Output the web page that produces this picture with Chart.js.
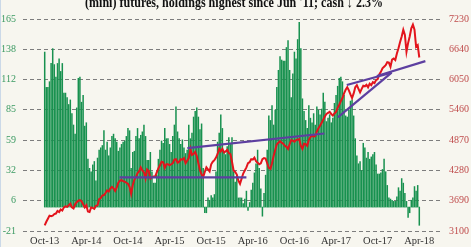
<!DOCTYPE html>
<html><head><meta charset="utf-8">
<script src="https://cdn.jsdelivr.net/npm/chart.js@4.4.1/dist/chart.umd.min.js"></script>
<style>
html,body{margin:0;padding:0;background:#f7f6ef;}
#wrap{position:relative;width:471px;height:247px;overflow:hidden;}
canvas{display:block;}
#edge{position:absolute;left:0;top:0;width:1px;height:247px;background:#cbd9e8;}
</style></head><body>
<div id="wrap"><canvas id="c" width="471" height="247"></canvas><div id="edge"></div></div>
<script>
const titleText = "(mini) futures, holdings highest since Jun '11; cash \u2193 2.3%";
const xTickLabels = ['Oct-13','Apr-14','Oct-14','Apr-15','Oct-15','Apr-16','Oct-16','Apr-17','Oct-17','Apr-18'];
const weeksPerTick = 26;
const leftTickLabels = ['-21','6','32','59','85','112','138','165'];
const rightTickLabels = ['3100','3690','4280','4870','5460','6050','6640','7230'];

// weekly net holdings (thousand contracts), left axis
const netHoldings = [
 136,105,105,110,126,139,125,114,126,130,
 119,126,100,100,96,90,94,82,72,64,
 87,113,114,92,98,71,74,42,34,31,
 37,40,23,43,50,52,54,67,50,57,
 45,52,62,64,60,57,49,52,55,57,
 58,62,69,67,34,48,49,62,69,60,
 63,66,72,62,41,41,48,31,21,21,
 28,42,50,58,56,69,60,60,55,48,
 62,72,88,66,60,55,59,52,47,50,
 72,60,65,79,84,87,79,68,73,34,
 -5,-5,8,6,10,8,11,31,57,65,
 81,69,48,46,53,61,55,61,31,22,
 28,8,8,8,3,7,14,-3,4,15,
 21,30,38,50,34,16,-8,12,28,50,
 80,76,89,72,85,105,120,132,129,128,
 128,140,146,120,96,117,136,130,147,162,
 139,95,84,76,69,89,78,74,82,72,
 88,85,81,86,100,92,75,78,81,74,
 78,91,98,106,113,114,110,98,80,79,
 85,93,94,80,60,45,38,40,32,56,
 52,43,48,42,44,46,48,37,29,29,
 30,33,42,31,19,8,7,6,5,5,
 9,17,14,25,21,12,5,-9,-5,6,
 8,18,14,19,-16
];

// weekly index close, right axis
const indexClose = [
 3210,3280,3340,3400,3390,3400,3430,3440,3490,3470,
 3520,3500,3560,3580,3570,3600,3630,3560,3540,3620,
 3660,3690,3700,3680,3620,3560,3600,3480,3470,3560,
 3550,3530,3590,3600,3720,3740,3790,3800,3840,3890,
 3870,3930,3960,3930,3880,3950,4040,4080,4090,4070,
 4060,4040,4020,3960,3820,3990,4100,4150,4230,4260,
 4340,4280,4240,4120,4300,4270,4120,4150,4160,4160,
 4240,4320,4380,4450,4440,4330,4400,4400,4380,4400,
 4420,4490,4500,4430,4450,4500,4490,4520,4420,4470,
 4520,4700,4580,4600,4640,4560,4420,4280,4200,4150,
 4250,4340,4300,4260,4400,4450,4480,4530,4600,4700,
 4650,4700,4630,4650,4680,4620,4600,4450,4280,4250,
 4200,4080,4020,4120,4220,4280,4340,4420,4440,4500,
 4490,4530,4460,4430,4400,4420,4500,4520,4510,4420,
 4330,4310,4420,4560,4680,4790,4820,4850,4820,4800,
 4760,4740,4700,4790,4870,4860,4840,4870,4880,4890,
 4760,4700,4800,4790,4760,4880,4930,4960,4940,4950,
 5040,5100,5150,5210,5270,5330,5380,5400,5420,5380,
 5350,5390,5420,5500,5560,5630,5690,5780,5850,5900,
 5840,5760,5690,5780,5900,5940,5870,5800,5870,5930,
 5920,5950,5900,5970,5940,6000,5980,6040,6060,6150,
 6200,6270,6300,6330,6390,6380,6300,6440,6460,6430,
 6560,6660,6780,6890,7020,6920,6590,6760,6890,7050,
 7120,7020,6690,6720,6480
];

// trend lines: [week, index level]
const trendFlat   = [[46.7,4145],[126,4145]];
const trendRising = [[89.1,4715],[174.7,5000]];
const wedgeTop    = [[188.7,5944],[216.7,6184]];
const wedgeBottom = [[183.1,5315],[216.7,6184]];
const trendLong   = [[207.5,6120],[237.8,6410]];

const toXY = arr => arr.map((v,i)=>({x:i,y:v}));
const pairXY = arr => arr.map(p=>({x:p[0],y:p[1]}));

const leftMin = Number(leftTickLabels[0]), leftMax = Number(leftTickLabels[leftTickLabels.length-1]);
const rightMin = Number(rightTickLabels[0]), rightMax = Number(rightTickLabels[rightTickLabels.length-1]);

const serif = '"Liberation Serif","Times New Roman",serif';
const purple = '#5d3fa0';

const titlePlugin = {
  id:'cutTitle',
  afterDraw(chart){
    const ctx = chart.ctx;
    ctx.save();
    ctx.font = 'bold 15px ' + serif;
    ctx.fillStyle = '#111';
    ctx.textBaseline = 'alphabetic';
    ctx.textAlign = 'center';
    const w = ctx.measureText(titleText).width;
    const sx = Math.min(1, 298 / w);
    ctx.translate(234, 6.7);
    ctx.scale(sx, 1);
    ctx.fillText(titleText, 0, 0);
    ctx.restore();
  }
};

const trendDs = (arr) => ({
  type:'line', data: pairXY(arr), yAxisID:'yR', borderColor: purple, borderWidth:2.2,
  pointRadius:0, tension:0, order:1, clip:false
});

new Chart(document.getElementById('c'), {
  data:{
    datasets:[
      {type:'bar', data: toXY(netHoldings), yAxisID:'yL', backgroundColor:'#18914f',
       barThickness:0.85, borderWidth:0, order:3},
      {type:'line', data: toXY(indexClose), yAxisID:'yR', borderColor:'#e3141c', borderWidth:2,
       pointRadius:0, tension:0, order:2},
      trendDs(trendFlat), trendDs(trendRising), trendDs(wedgeTop), trendDs(wedgeBottom), trendDs(trendLong)
    ]
  },
  options:{
    responsive:false, animation:false, devicePixelRatio:1,
    layout:{padding:{top:19,left:0,right:0,bottom:0}},
    plugins:{legend:{display:false}, tooltip:{enabled:false}, title:{display:false}},
    scales:{
      x:{type:'linear', min:-0.5, max:(xTickLabels.length-1)*weeksPerTick+0.5,
         grid:{display:false, drawTicks:false, tickLength:0}, border:{display:false},
         afterBuildTicks: s => { s.ticks = xTickLabels.map((_,k)=>({value:k*weeksPerTick})); },
         afterFit: s => { s.height = 16; },
         ticks:{autoSkip:false, maxRotation:0, padding:4, color:'#333',
           font:{family:serif, size:10.5},
           callback:(v,i)=>xTickLabels[i]}},
      yL:{type:'linear', position:'left', min:leftMin, max:leftMax,
         afterBuildTicks: s => { s.ticks = leftTickLabels.map((_,k)=>({value: leftMin + k*(leftMax-leftMin)/(leftTickLabels.length-1)})); },
         afterFit: s => { s.width = 23; },
         grid:{color:'#7d7d7d', lineWidth:1, drawTicks:false},
         border:{display:false, dash:[4,3]},
         ticks:{padding:7, color:'#3b9a62', font:{family:serif, size:10},
           callback:(v,i)=>leftTickLabels[i]}},
      yR:{type:'linear', position:'right', min:rightMin, max:rightMax,
         afterBuildTicks: s => { s.ticks = rightTickLabels.map((_,k)=>({value: rightMin + k*(rightMax-rightMin)/(rightTickLabels.length-1)})); },
         afterFit: s => { s.width = 30; },
         grid:{display:false, drawTicks:false}, border:{display:false},
         ticks:{padding:8, color:'#bf4a4a', font:{family:serif, size:10},
           callback:(v,i)=>rightTickLabels[i]}}
    }
  },
  plugins:[titlePlugin]
});
</script>
</body></html>
